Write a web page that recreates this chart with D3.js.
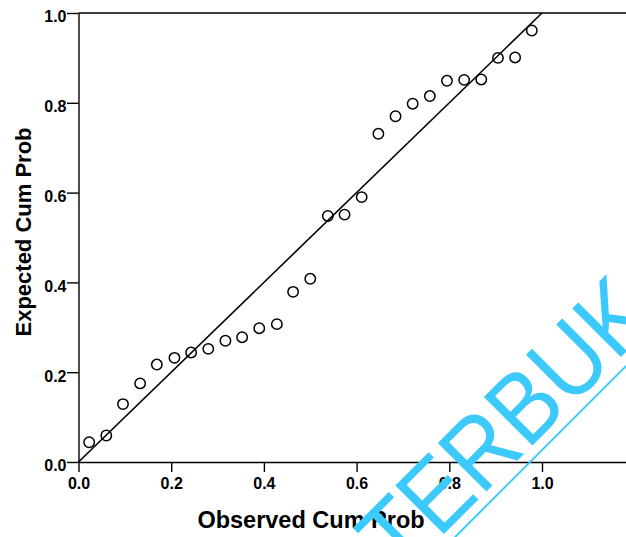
<!DOCTYPE html>
<html>
<head>
<meta charset="utf-8">
<script src="https://cdn.jsdelivr.net/npm/d3@7"></script>
<style>
  body { margin: 0; background: #fff; }
  svg { display: block; font-family: "Liberation Sans", Arial, sans-serif; }
</style>
</head>
<body>
<div id="chart"></div>
<script>
// observed vs expected cumulative probability
const observed = [0.023, 0.060, 0.096, 0.133, 0.169, 0.207, 0.243, 0.280, 0.317, 0.353,
  0.390, 0.428, 0.463, 0.500, 0.538, 0.574, 0.611, 0.647, 0.684, 0.721,
  0.758, 0.795, 0.832, 0.869, 0.905, 0.942, 0.978];
const expected = [0.044, 0.059, 0.129, 0.175, 0.217, 0.232, 0.244, 0.252, 0.270, 0.278,
  0.298, 0.307, 0.379, 0.408, 0.548, 0.551, 0.590, 0.731, 0.770, 0.798,
  0.815, 0.849, 0.851, 0.852, 0.900, 0.901, 0.961];
const tickValues = [0, 0.2, 0.4, 0.6, 0.8, 1.0];
const xTitle = "Observed Cum Prob";
const yTitle = "Expected Cum Prob";
const watermark = "TERBUK";

const width = 626, height = 537;
const margin = { top: 13, right: 0, bottom: 75, left: 78.5 };

const svg = d3.select("#chart").append("svg")
  .attr("width", width)
  .attr("height", height);

svg.append("rect").attr("width", width).attr("height", height).attr("fill", "#fff");

const xScale = d3.scaleLinear()
  .domain([0, (width - margin.left) / 463.5])
  .range([margin.left, width]);
const yScale = d3.scaleLinear()
  .domain([0, 1])
  .range([height - margin.bottom, margin.top]);

// top frame line
svg.append("line")
  .attr("x1", xScale(0)).attr("x2", width)
  .attr("y1", yScale(1)).attr("y2", yScale(1))
  .attr("stroke", "#000").attr("stroke-width", 1.4);

const xAxis = svg.append("g")
  .attr("transform", `translate(0,${yScale(0)})`)
  .call(d3.axisBottom(xScale).tickValues(tickValues).tickFormat(d3.format(".1f"))
    .tickSize(10).tickSizeOuter(0).tickPadding(6));

const yAxis = svg.append("g")
  .attr("transform", `translate(${xScale(0)},0)`)
  .call(d3.axisLeft(yScale).tickValues(tickValues).tickFormat(d3.format(".1f"))
    .tickSize(11.5).tickSizeOuter(0).tickPadding(0.5));
yAxis.selectAll(".tick text").attr("dy", "0.55em");

[xAxis, yAxis].forEach(g => {
  g.selectAll("path, line").attr("stroke", "#000").attr("stroke-width", 1.4);
  g.selectAll("text")
    .attr("fill", "#000")
    .style("font-size", "16px")
    .style("font-weight", "bold")
    .style("font-family", "'Liberation Sans', Arial, sans-serif");
});

// reference line y = x
svg.append("line")
  .attr("x1", xScale(0)).attr("y1", yScale(0))
  .attr("x2", xScale(1)).attr("y2", yScale(1))
  .attr("stroke", "#000").attr("stroke-width", 1.6);

svg.append("g").selectAll("circle")
  .data(observed.map((d, i) => [d, expected[i]]))
  .join("circle")
  .attr("cx", d => xScale(d[0]))
  .attr("cy", d => yScale(d[1]))
  .attr("r", 5.2)
  .attr("fill", "none")
  .attr("stroke", "#000")
  .attr("stroke-width", 1.5);

svg.append("text")
  .attr("x", 311).attr("y", 528)
  .attr("text-anchor", "middle")
  .style("font-size", "23.5px").style("font-weight", "bold")
  .text(xTitle);

svg.append("text")
  .attr("transform", "translate(31,232) rotate(-90)")
  .attr("text-anchor", "middle")
  .style("font-size", "22px").style("font-weight", "bold")
  .text(yTitle);

// watermark
const wm = svg.append("g").attr("transform", "translate(400,578) rotate(-45)");
wm.append("text")
  .attr("transform", "scale(0.9,1)")
  .attr("fill", "#3ccafc")
  .style("font-size", "100px")
  .text(watermark);
wm.append("line")
  .attr("x1", 0).attr("x2", 400)
  .attr("y1", 10).attr("y2", 10)
  .attr("stroke", "#3ccafc").attr("stroke-width", 2);
</script>
</body>
</html>
